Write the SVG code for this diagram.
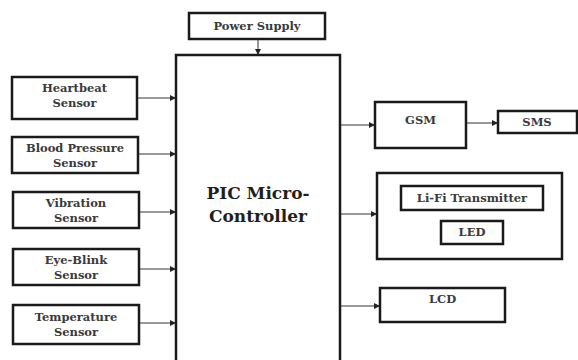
<svg xmlns="http://www.w3.org/2000/svg" width="578" height="360" viewBox="0 0 578 360">
<defs>
<marker id="ah" markerWidth="6" markerHeight="6" refX="5" refY="3" orient="auto" markerUnits="userSpaceOnUse">
<path d="M0,0 L6,3 L0,6 Z" fill="#222"/>
</marker>
<style>
.box{fill:#fff;stroke:#1a1a1a;stroke-width:2.5}
.t{font-family:"DejaVu Serif","Liberation Serif",serif;font-weight:bold;font-size:11.5px;fill:#3a3a3a;text-anchor:middle}
.big{font-family:"DejaVu Serif","Liberation Serif",serif;font-weight:bold;font-size:17px;fill:#1f1f1f;text-anchor:middle}
.c{stroke:#333;stroke-width:1;fill:none;marker-end:url(#ah)}
</style>
</defs>
<rect width="578" height="360" fill="#fff"/>
<g id="power"><rect class="box" x="189" y="13" width="136" height="26"/><text class="t" x="257" y="30">Power Supply</text></g>
<g id="pic"><rect class="box" x="176" y="55" width="164" height="310"/><text class="big" x="258" y="199">PIC Micro-</text><text class="big" x="258" y="222">Controller</text></g>
<g id="heartbeat"><rect class="box" x="12" y="77" width="125" height="42"/><text class="t" x="74.5" y="92">Heartbeat</text><text class="t" x="74.5" y="107">Sensor</text></g>
<g id="bp"><rect class="box" x="12" y="137" width="126" height="36"/><text class="t" x="75" y="152">Blood Pressure</text><text class="t" x="75" y="167">Sensor</text></g>
<g id="vibration"><rect class="box" x="13" y="192" width="126" height="36"/><text class="t" x="76" y="207">Vibration</text><text class="t" x="76" y="222">Sensor</text></g>
<g id="eyeblink"><rect class="box" x="13" y="249" width="126" height="36"/><text class="t" x="76" y="264">Eye-Blink</text><text class="t" x="76" y="279">Sensor</text></g>
<g id="temperature"><rect class="box" x="13" y="305" width="126" height="39"/><text class="t" x="76" y="321">Temperature</text><text class="t" x="76" y="336">Sensor</text></g>
<g id="gsm"><rect class="box" x="375" y="102" width="91" height="46"/><text class="t" x="420.5" y="124">GSM</text></g>
<g id="sms"><rect class="box" x="498" y="111" width="79" height="22"/><text class="t" x="537" y="126">SMS</text></g>
<g id="lifi"><rect class="box" x="377" y="173" width="185" height="86"/>
<rect class="box" x="401" y="186" width="142" height="24"/><text class="t" x="472" y="202">Li-Fi Transmitter</text>
<rect class="box" x="441" y="221" width="62" height="23"/><text class="t" x="472" y="236">LED</text></g>
<g id="lcd"><rect class="box" x="380" y="288" width="125" height="34"/><text class="t" x="442.5" y="303">LCD</text></g>
<g id="connectors">
<line class="c" x1="258" y1="39" x2="258" y2="54"/>
<line class="c" x1="138" y1="98" x2="175" y2="98"/>
<line class="c" x1="139" y1="154" x2="175" y2="154"/>
<line class="c" x1="140" y1="212" x2="175" y2="212"/>
<line class="c" x1="140" y1="269" x2="175" y2="269"/>
<line class="c" x1="140" y1="323" x2="175" y2="323"/>
<line class="c" x1="341" y1="125" x2="374" y2="125"/>
<line class="c" x1="467" y1="123" x2="497" y2="123"/>
<line class="c" x1="341" y1="214" x2="376" y2="214"/>
<line class="c" x1="341" y1="306" x2="379" y2="306"/>
</g>
</svg>
